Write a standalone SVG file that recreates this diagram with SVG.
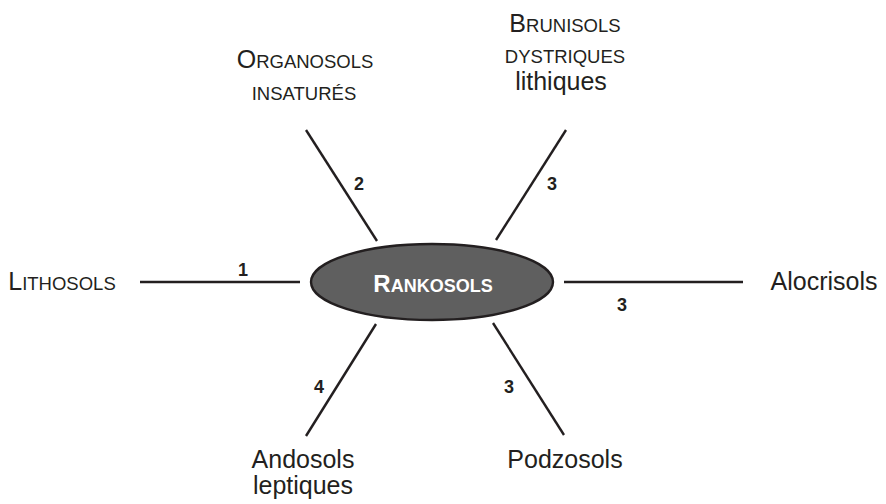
<svg xmlns="http://www.w3.org/2000/svg" width="886" height="504" viewBox="0 0 886 504">
<style>
.lbl{font-family:"Liberation Sans",Arial,sans-serif;font-size:25px;fill:#231f20;text-anchor:middle}
.sc{font-size:18.5px}
.num{font-family:"Liberation Sans",Arial,sans-serif;font-size:18px;font-weight:bold;fill:#231f20;text-anchor:middle}
.edge{stroke:#231f20;stroke-width:2.4;fill:none}
</style>
<rect width="886" height="504" fill="#fff"/>
<g id="connectors">
<line class="edge" x1="140" y1="282" x2="300" y2="282"/>
<line class="edge" x1="306" y1="130" x2="377" y2="241"/>
<line class="edge" x1="566" y1="130" x2="496" y2="240"/>
<line class="edge" x1="564" y1="282" x2="743" y2="282"/>
<line class="edge" x1="376" y1="324" x2="306" y2="436"/>
<line class="edge" x1="493" y1="323" x2="564" y2="435"/>
<text class="num" x="243" y="276">1</text>
<text class="num" x="359" y="190">2</text>
<text class="num" x="552" y="190">3</text>
<text class="num" x="622" y="311">3</text>
<text class="num" x="319" y="393">4</text>
<text class="num" x="509" y="393">3</text>
</g>
<g id="rankosols">
<ellipse cx="432" cy="282" rx="121" ry="38" fill="#5f5f5f" stroke="#231f20" stroke-width="2.4"/>
<text x="433" y="292" text-anchor="middle" font-family="'Liberation Sans',Arial,sans-serif" font-weight="bold" fill="#fff" font-size="18"><tspan font-size="24">R</tspan>ANKOSOLS</text>
</g>
<g id="lithosols">
<text class="lbl" x="62" y="290"><tspan>L</tspan><tspan class="sc">ITHOSOLS</tspan></text>
</g>
<g id="organosols">
<text class="lbl" x="305" y="68"><tspan>O</tspan><tspan class="sc">RGANOSOLS</tspan></text>
<text class="lbl sc" x="304" y="100">INSATURÉS</text>
</g>
<g id="brunisols">
<text class="lbl" x="565" y="32"><tspan>B</tspan><tspan class="sc">RUNISOLS</tspan></text>
<text class="lbl sc" x="565" y="63">DYSTRIQUES</text>
<text class="lbl" x="561" y="90">lithiques</text>
</g>
<g id="alocrisols">
<text class="lbl" x="824" y="290">Alocrisols</text>
</g>
<g id="andosols">
<text class="lbl" x="303" y="468">Andosols</text>
<text class="lbl" x="303" y="494">leptiques</text>
</g>
<g id="podzosols">
<text class="lbl" x="565" y="468">Podzosols</text>
</g>
</svg>
